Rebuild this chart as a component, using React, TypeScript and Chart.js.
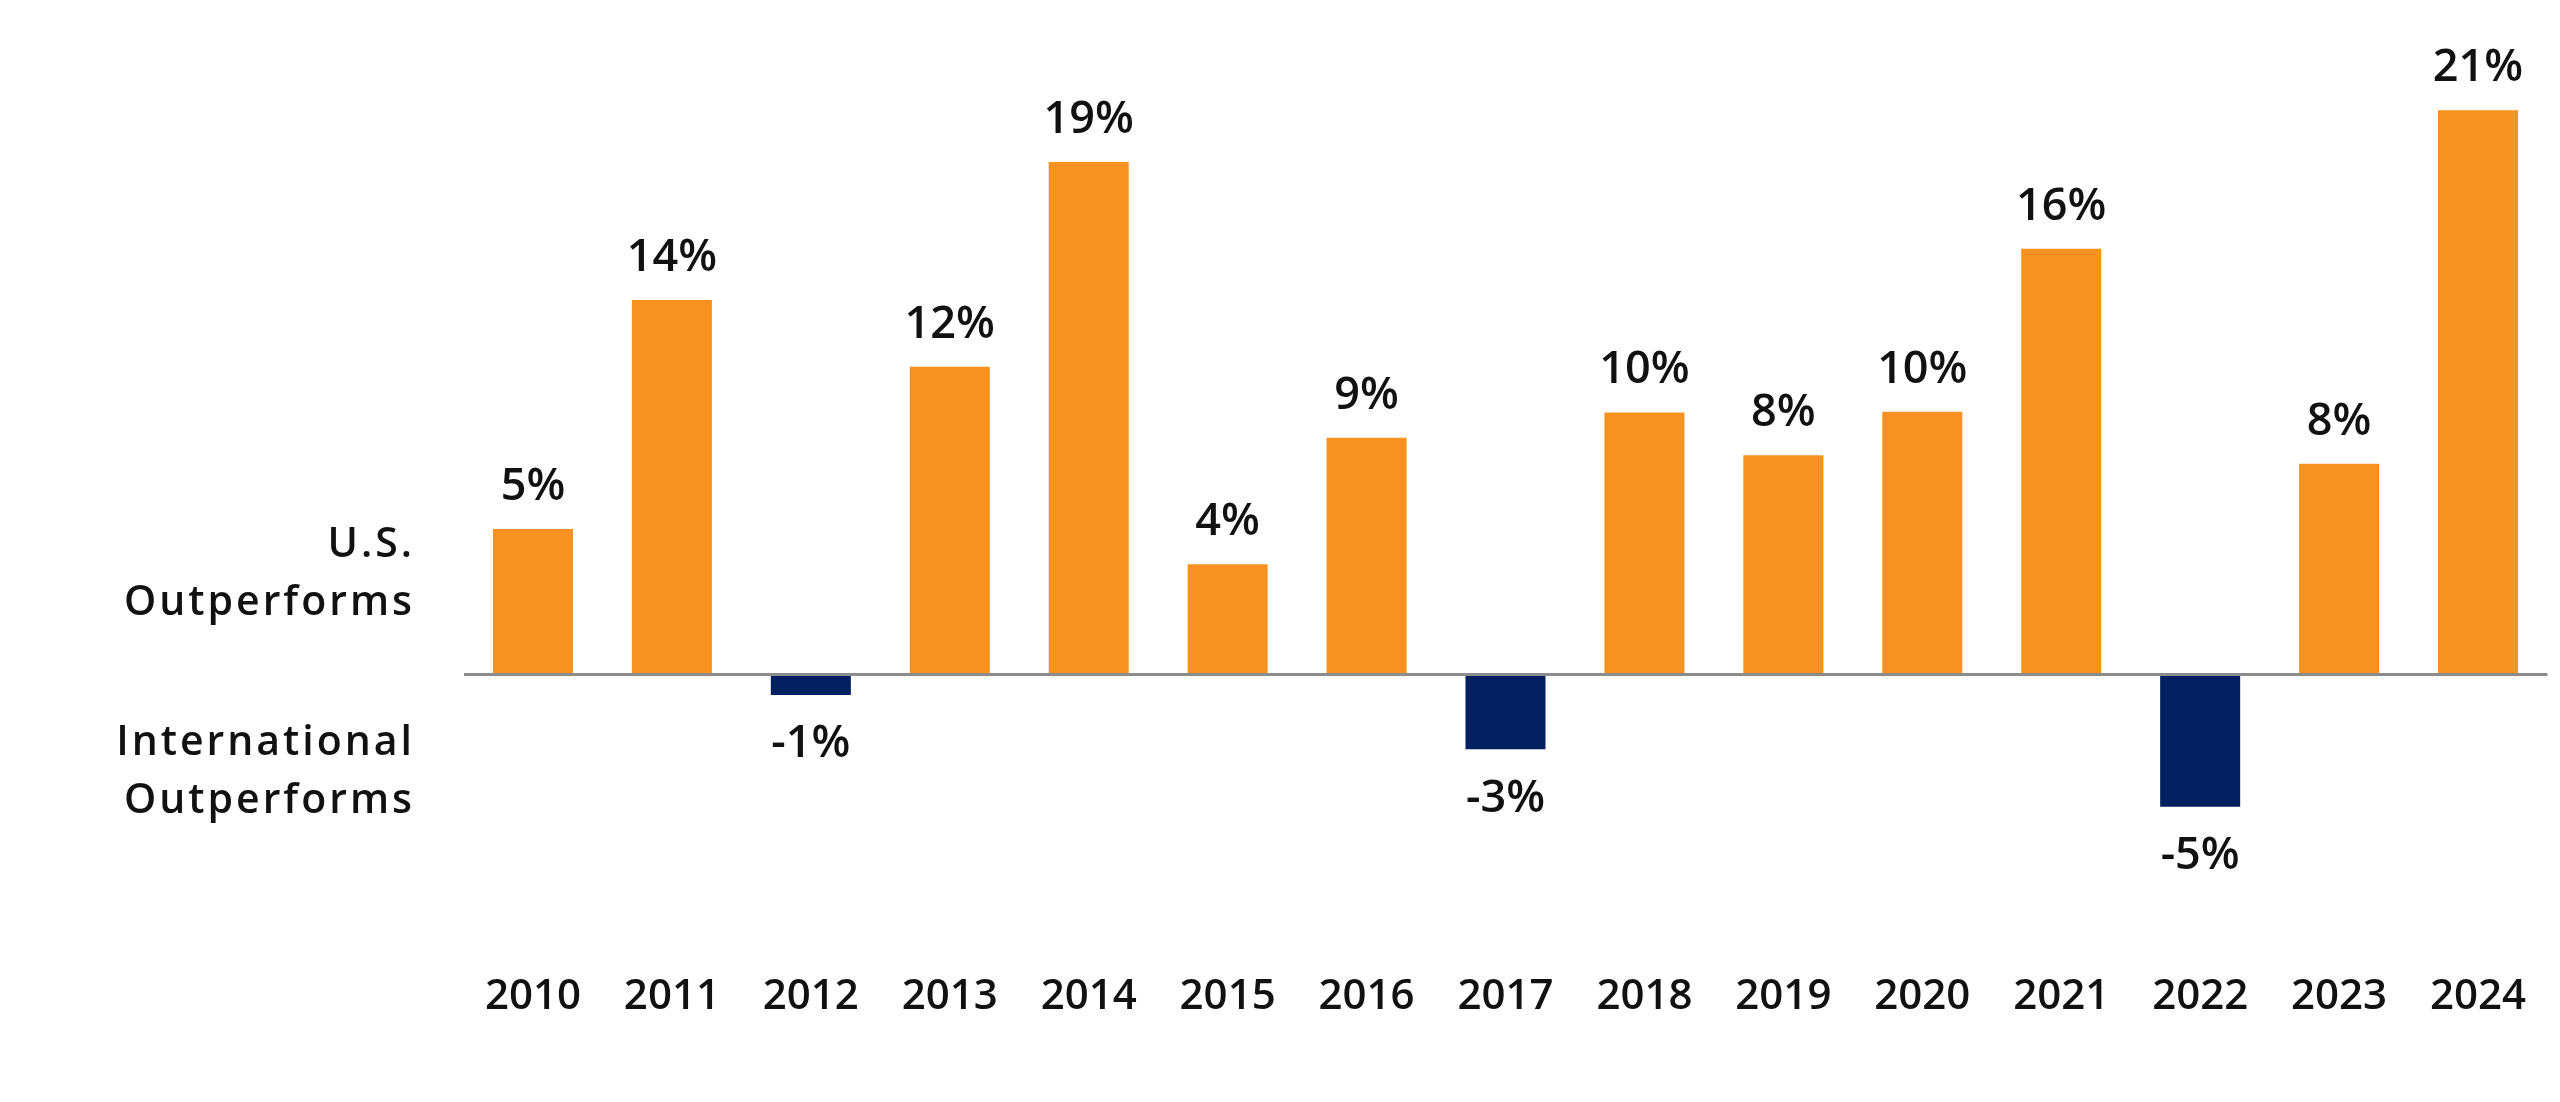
import React, { useEffect, useRef } from 'react';
import { Chart, registerables } from 'chart.js';

Chart.register(...registerables);

const years = ['2010', '2011', '2012', '2013', '2014', '2015', '2016', '2017', '2018', '2019', '2020', '2021', '2022', '2023', '2024'];
// U.S. minus international return, in percent
const spread = [5.47, 14.08, -0.77, 11.57, 19.26, 4.14, 8.9, -2.81, 9.85, 8.24, 9.88, 16.0, -4.97, 7.92, 21.21];
const usLabel = ['U.S.', 'Outperforms'];
const intlLabel = ['International', 'Outperforms'];

const ORANGE = '#F7911F';
const NAVY = '#02205F';
const FONT = '"Open Sans", Lato, sans-serif';
const WEIGHT = 600;

// value labels above positive bars, below negative ones
const valueLabels = {
  id: 'valueLabels',
  afterDatasetsDraw(chart: Chart) {
    const { ctx } = chart;
    const meta = chart.getDatasetMeta(0);
    const size = 45;
    ctx.save();
    ctx.font = `${WEIGHT} ${size}px ${FONT}`;
    ctx.fillStyle = '#111111';
    ctx.textAlign = 'center';
    ctx.textBaseline = 'alphabetic';
    meta.data.forEach((bar: any, i: number) => {
      const v = spread[i];
      const text = Math.round(v) + '%';
      if (v >= 0) {
        ctx.fillText(text, bar.x, bar.y - 29);
      } else {
        ctx.fillText(text, bar.x, bar.y + 30 + size * 0.72);
      }
    });
    ctx.restore();
  },
};

// the two side captions left of the zero line
const sideLabels = {
  id: 'sideLabels',
  afterDraw(chart: Chart) {
    const { ctx, chartArea } = chart;
    const y = chart.scales.y;
    const lineH = 58;
    const spacing = 3;
    const x = chartArea.left - 51.5 + spacing;
    const draw = (lines: string[], value: number) => {
      const mid = y.getPixelForValue(value);
      lines.forEach((line, i) => {
        ctx.fillText(line, x, mid + (i - (lines.length - 1) / 2) * lineH);
      });
    };
    ctx.save();
    ctx.font = `${WEIGHT} 41px ${FONT}`;
    (ctx as any).letterSpacing = `${spacing}px`;
    ctx.fillStyle = '#111111';
    ctx.textAlign = 'right';
    ctx.textBaseline = 'middle';
    draw(usLabel, 3.78);
    draw(intlLabel, -3.67);
    ctx.restore();
  },
};

const App: React.FC = () => {
  const canvasRef = useRef<HTMLCanvasElement>(null);
  const chartRef = useRef<Chart | null>(null);

  useEffect(() => {
    if (!canvasRef.current) return;
    if (chartRef.current) chartRef.current.destroy();

    chartRef.current = new Chart(canvasRef.current, {
      type: 'bar',
      data: {
        labels: years,
        datasets: [
          {
            data: spread,
            backgroundColor: spread.map((v) => (v >= 0 ? ORANGE : NAVY)),
            borderWidth: 0,
            barPercentage: 0.576,
            categoryPercentage: 1,
          },
        ],
      },
      options: {
        responsive: true,
        maintainAspectRatio: false,
        animation: false,
        devicePixelRatio: 1,
        layout: { padding: { top: 36, right: 12.5, bottom: 0, left: 0 } },
        plugins: {
          legend: { display: false },
          tooltip: { enabled: false },
        },
        scales: {
          x: {
            grid: { display: false, drawTicks: false },
            border: { display: false },
            ticks: {
              color: '#111111',
              font: { family: FONT, size: 42, weight: WEIGHT },
              padding: 31,
              autoSkip: false,
              maxRotation: 0,
            },
            afterFit: (scale: any) => {
              scale.height = 161.5;
              scale.paddingLeft = 0;
              scale.paddingRight = 0;
            },
          },
          y: {
            min: -10,
            max: 24,
            border: { display: false },
            grid: {
              drawTicks: false,
              tickLength: 0,
              lineWidth: 3,
              color: (ctx: any) => (ctx.tick && ctx.tick.value === 0 ? '#8C8C8C' : 'rgba(0,0,0,0)'),
            },
            ticks: { display: false },
            afterBuildTicks: (scale: any) => {
              scale.ticks = [{ value: 0 }];
            },
            afterFit: (scale: any) => {
              scale.width = 463.5;
              scale.paddingTop = 0;
              scale.paddingBottom = 0;
            },
          },
        },
      },
      plugins: [valueLabels, sideLabels],
    });

    return () => {
      if (chartRef.current) {
        chartRef.current.destroy();
        chartRef.current = null;
      }
    };
  }, []);

  return (
    <div style={{ position: 'fixed', left: 0, top: 0, width: '2560px', height: '1102px', background: '#ffffff' }}>
      <canvas ref={canvasRef}></canvas>
    </div>
  );
};

export default App;
